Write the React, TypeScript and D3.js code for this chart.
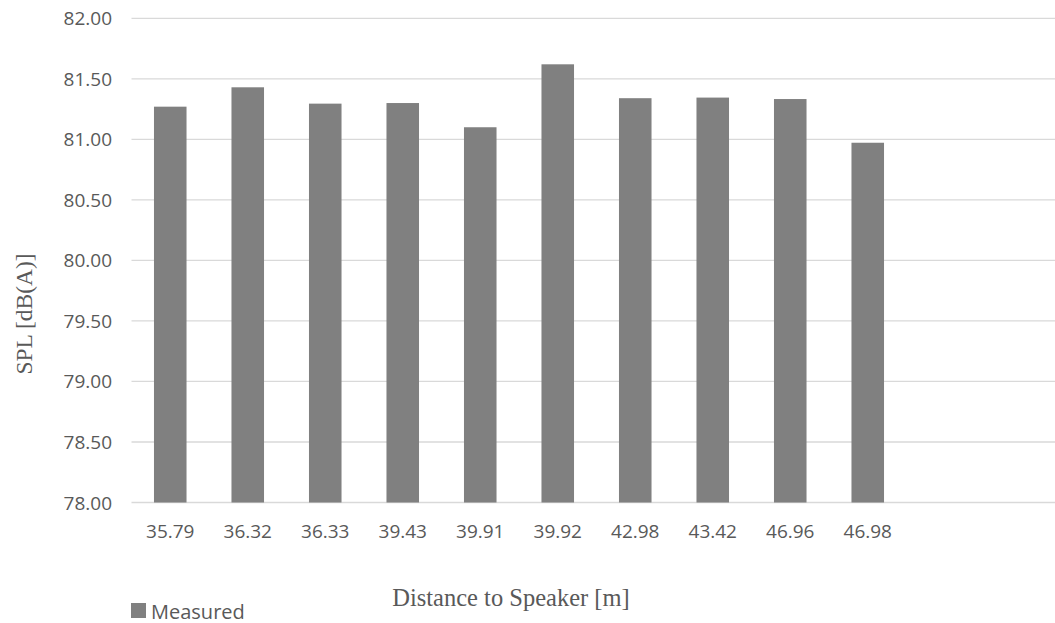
import React from "react";
import * as d3 from "d3";

const categories = ["35.79", "36.32", "36.33", "39.43", "39.91", "39.92", "42.98", "43.42", "46.96", "46.98", "", " "];
const measured = [81.27, 81.43, 81.295, 81.30, 81.10, 81.62, 81.34, 81.345, 81.333, 80.972];
const yTicks = [78, 78.5, 79, 79.5, 80, 80.5, 81, 81.5, 82];
const seriesName = "Measured";
const xTitle = "Distance to Speaker [m]";
const yTitle = "SPL [dB(A)]";

const W = 1055;
const H = 623;
const left = 131.5;
const top = 18.3;
const bottom = 502.5;

export default function App() {
  const x = d3.scaleBand<string>().domain(categories).range([left, left + 12 * 77.5]).paddingInner(0.58).paddingOuter(0.29);
  const y = d3.scaleLinear().domain([78, 82]).range([bottom, top]);
  const sans = "'Open Sans', sans-serif";
  const serif = "'Liberation Serif', serif";
  const txt = "#595959";
  return (
    <svg width={W} height={H} style={{ position: "absolute", left: 0, top: 0, background: "#fff" }}>
      {yTicks.map((t) => (
        <g key={t}>
          <line x1={left} x2={W} y1={y(t)} y2={y(t)} stroke="#d9d9d9" strokeWidth={1.3} />
          <text x={112} y={y(t)} textAnchor="end" dominantBaseline="central" fontFamily={sans} fontSize={19} fill={txt}>
            {t.toFixed(2)}
          </text>
        </g>
      ))}
      {measured.map((v, i) => (
        <rect key={i} x={x(categories[i])!} width={x.bandwidth()} y={y(v)} height={y(78) - y(v)} fill="#808080" />
      ))}
      {categories.map((c, i) => (
        <text key={i} x={x(c)! + x.bandwidth() / 2} y={531} textAnchor="middle" dominantBaseline="central" fontFamily={sans} fontSize={19} fill={txt}>
          {c}
        </text>
      ))}
      <text x={511} y={597} textAnchor="middle" dominantBaseline="central" fontFamily={serif} fontSize={24.5} fill={txt}>
        {xTitle}
      </text>
      <text transform={`translate(24,314) rotate(-90)`} textAnchor="middle" dominantBaseline="central" fontFamily={serif} fontSize={23.5} fill={txt}>
        {yTitle}
      </text>
      <rect x={131} y={603} width={15} height={15} fill="#808080" />
      <text x={151} y={611} dominantBaseline="central" fontFamily={sans} fontSize={20} fill={txt}>
        {seriesName}
      </text>
    </svg>
  );
}
